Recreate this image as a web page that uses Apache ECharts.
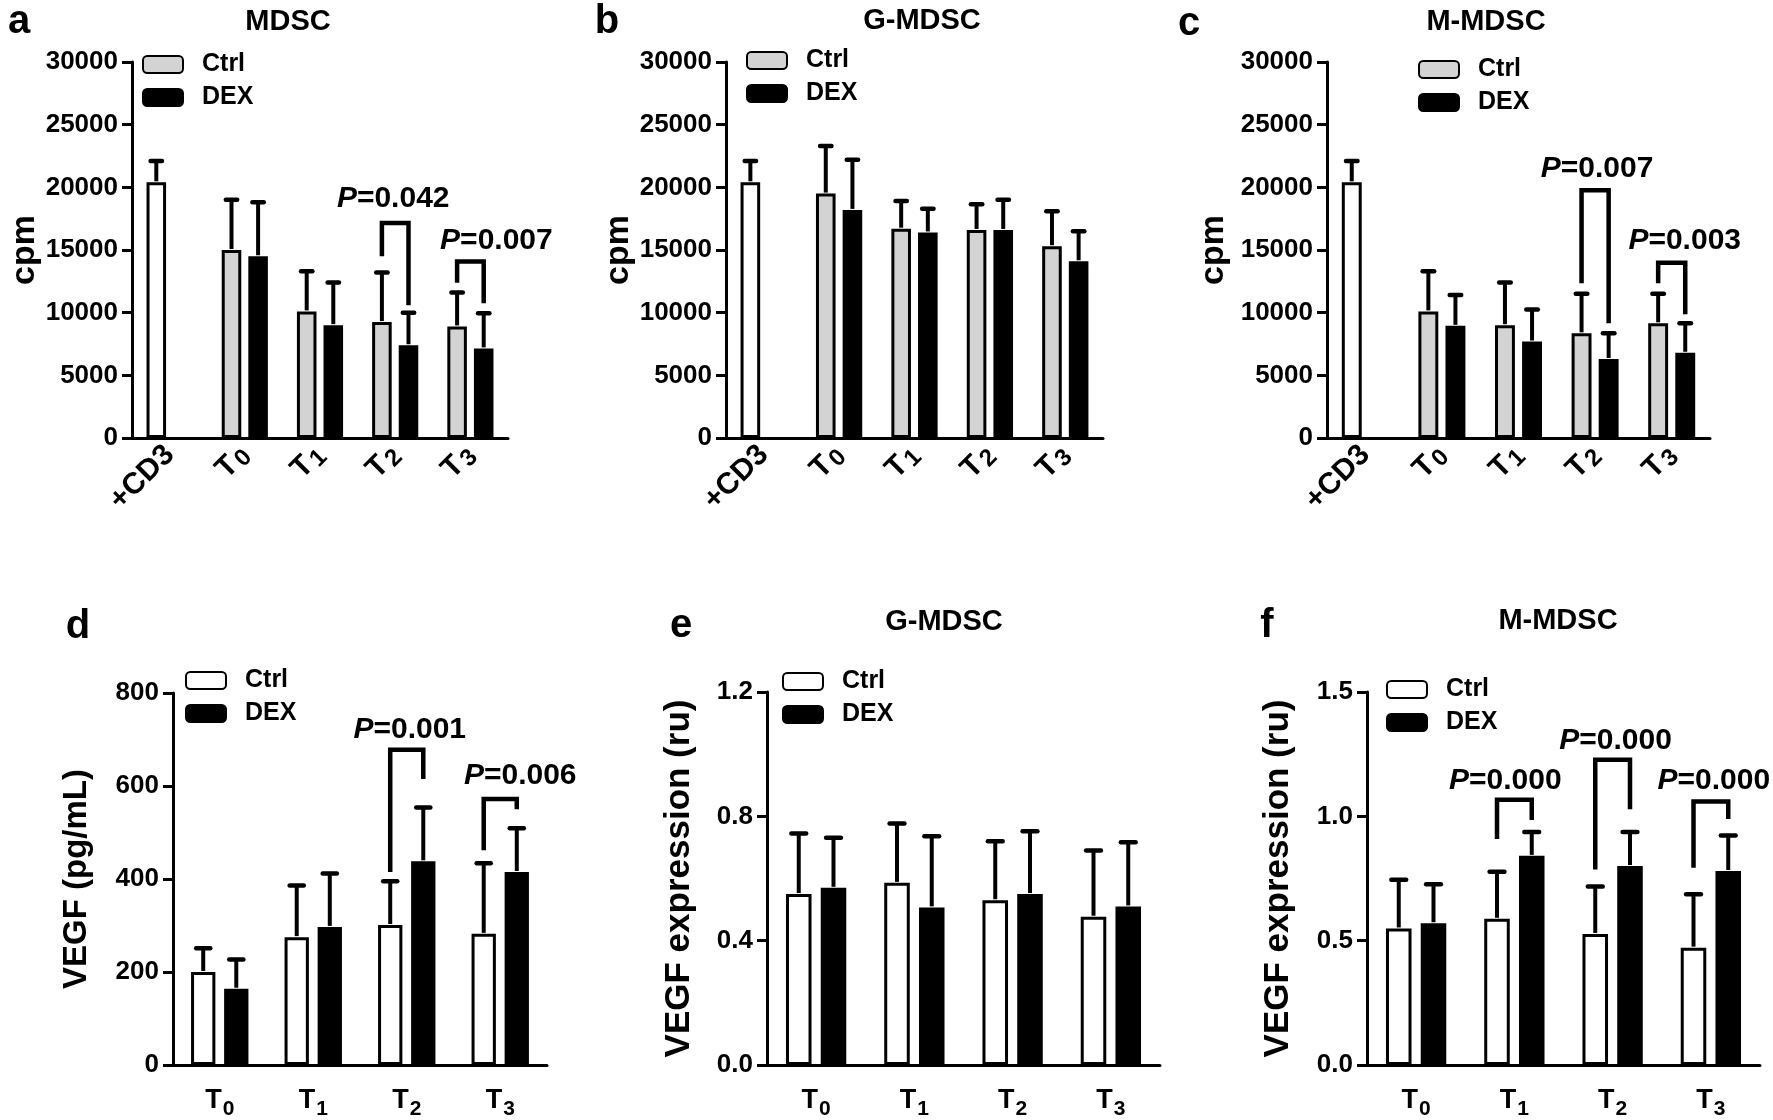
<!DOCTYPE html>
<html><head><meta charset="utf-8">
<script src="https://cdn.jsdelivr.net/npm/echarts@6/dist/echarts.min.js"></script>
<style>html,body{margin:0;padding:0;background:#fff}#c{width:1773px;height:1120px}</style>
</head><body><div id="c"></div>
<script>
// ---------- DATA ----------
const catsTop = ['+CD3', 'T0', 'T1', 'T2', 'T3'];
const catsBottom = ['T0', 'T1', 'T2', 'T3'];

// panel a: MDSC (cpm)
const aCtrl    = [20400, 15000, 10100, 9250, 8900];
const aCtrlErr = [22100, 19000, 13300, 13200, 11600];
const aDex     = [null, 14500, 9000, 7400, 7150];
const aDexErr  = [null, 18800, 12400, 10000, 9950];
// panel b: G-MDSC (cpm)
const bCtrl    = [20400, 19500, 16700, 16600, 15300];
const bCtrlErr = [22100, 23300, 18900, 18650, 18100];
const bDex     = [null, 18200, 16400, 16600, 14100];
const bDexErr  = [null, 22200, 18300, 19000, 16500];
// panel c: M-MDSC (cpm)
const cCtrl    = [20400, 10100, 9000, 8350, 9150];
const cCtrlErr = [22100, 13300, 12400, 11500, 11500];
const cDex     = [null, 8950, 7700, 6300, 6800];
const cDexErr  = [null, 11400, 10250, 8350, 9150];
// panel d: VEGF (pg/mL)
const dCtrl    = [200, 275, 301, 282];
const dCtrlErr = [251, 386, 395, 434];
const dDex     = [164, 297, 438, 415];
const dDexErr  = [227, 412, 554, 509];
// panel e: G-MDSC VEGF expression (ru)
const eCtrl    = [0.550, 0.586, 0.530, 0.477];
const eCtrlErr = [0.745, 0.777, 0.720, 0.690];
const eDex     = [0.570, 0.507, 0.550, 0.510];
const eDexErr  = [0.731, 0.736, 0.752, 0.717];
// panel f: M-MDSC VEGF expression (ru)
const fCtrl    = [0.549, 0.588, 0.527, 0.472];
const fCtrlErr = [0.745, 0.777, 0.718, 0.687];
const fDex     = [0.570, 0.841, 0.800, 0.780];
const fDexErr  = [0.727, 0.937, 0.937, 0.923];

// significance brackets: [category index, left foot, top, right foot, label level]
const aBrackets = [[3, 14500, 17150, 10600, 19100], [4, 12390, 14080, 10750, 15700]];
const aPvals = ['0.042', '0.007'];
const cBrackets = [[3, 12340, 19770, 9150, 21500], [4, 12340, 13980, 9880, 15750]];
const cPvals = ['0.007', '0.003'];
const dBrackets = [[2, 415, 678, 615, 722], [3, 462, 572, 550, 622]];
const dPvals = ['0.001', '0.006'];
const fBrackets = [[1, 0.909, 1.067, 0.985, 1.142], [2, 0.786, 1.228, 1.028, 1.306], [3, 0.793, 1.060, 0.989, 1.142]];
const fPvals = ['0.000', '0.000', '0.000'];

// ---------- STYLE / LAYOUT ----------
const FONT = "'Liberation Sans', Arial, Helvetica, sans-serif";
const BAR_FRAC = 0.26, GAP_FRAC = 0.36;
const GRAY = '#d3d3d3';

const panels = [
  {key:'a', cats:catsTop, ctrl:aCtrl, ctrlErr:aCtrlErr, dex:aDex, dexErr:aDexErr, ctrlColor:GRAY, cd3:true,
   grid:{left:132, top:62, width:376, height:376}, y:{max:30000, interval:5000, dec:0}, name:'cpm', nameGap:86, nameSize:34,
   legend:{left:142, top:52}, br:aBrackets, pv:aPvals, dx:[-2, 26]},
  {key:'b', cats:catsTop, ctrl:bCtrl, ctrlErr:bCtrlErr, dex:bDex, dexErr:bDexErr, ctrlColor:GRAY, cd3:true,
   grid:{left:726, top:62, width:377, height:376}, y:{max:30000, interval:5000, dec:0}, name:'cpm', nameGap:86, nameSize:34,
   legend:{left:746, top:48}, br:null},
  {key:'c', cats:catsTop, ctrl:cCtrl, ctrlErr:cCtrlErr, dex:cDex, dexErr:cDexErr, ctrlColor:GRAY, cd3:true,
   grid:{left:1327, top:62, width:383, height:376}, y:{max:30000, interval:5000, dec:0}, name:'cpm', nameGap:96, nameSize:34,
   legend:{left:1418, top:57}, br:cBrackets, pv:cPvals, dx:[2, 13]},
  {key:'d', cats:catsBottom, ctrl:dCtrl, ctrlErr:dCtrlErr, dex:dDex, dexErr:dDexErr, ctrlColor:'#fff', cd3:false,
   grid:{left:173, top:693, width:374, height:378}, y:{max:800, interval:200, dec:0}, name:'VEGF (pg/mL)', nameGap:80, nameSize:33,
   legend:{left:185, top:668}, br:dBrackets, pv:dPvals, dx:[3, 20]},
  {key:'e', cats:catsBottom, ctrl:eCtrl, ctrlErr:eCtrlErr, dex:eDex, dexErr:eDexErr, ctrlColor:'#fff', cd3:false,
   grid:{left:767, top:692, width:393, height:378}, y:{max:1.2, interval:0.4, dec:1}, name:'VEGF expression (ru)', nameGap:70, nameSize:35,
   legend:{left:782, top:669}, br:null},
  {key:'f', cats:catsBottom, ctrl:fCtrl, ctrlErr:fCtrlErr, dex:fDex, dexErr:fDexErr, ctrlColor:'#fff', cd3:false,
   grid:{left:1367, top:692, width:393, height:378}, y:{max:1.5, interval:0.5, dec:1}, name:'VEGF expression (ru)', nameGap:71, nameSize:35,
   legend:{left:1386, top:677}, br:fBrackets, pv:fPvals, dx:[-9, 3, 3]}
];

const titles = [
  {text:'MDSC', x:288, y:22}, {text:'G-MDSC', x:922, y:21}, {text:'M-MDSC', x:1486, y:22},
  {text:'G-MDSC', x:944, y:622}, {text:'M-MDSC', x:1558, y:621}
];
const letters = [
  {text:'a', x:19, y:22}, {text:'b', x:607, y:22}, {text:'c', x:1189, y:24},
  {text:'d', x:78, y:627}, {text:'e', x:681, y:626}, {text:'f', x:1267, y:626}
];

// ---------- BUILD ----------
function barOffset(api, which) {
  const band = api.size([1, 0])[0];
  const w = band * BAR_FRAC;
  const sep = w * (1 + GAP_FRAC);
  return {w: w, off: which === 0 ? -sep / 2 : sep / 2, sep: sep};
}

function errRender(params, api) {
  const cat = api.value(0), which = api.value(1);
  const base = api.coord([cat, api.value(2)]);
  const top = api.coord([cat, api.value(3)]);
  const o = barOffset(api, which);
  const x = base[0] + o.off;
  const cap = o.w * 0.58;
  return {type:'group', children:[
    {type:'line', shape:{x1:x, y1:base[1] - 1, x2:x, y2:top[1]}, style:{stroke:'#000', lineWidth:4}},
    {type:'line', shape:{x1:x - cap / 2, y1:top[1], x2:x + cap / 2, y2:top[1]}, style:{stroke:'#000', lineWidth:4.5, lineCap:'round'}}
  ]};
}

function makeBracketRender(p) {
  return function (params, api) {
    const cat = api.value(0);
    const o = barOffset(api, 0);
    const cx = api.coord([cat, 0])[0];
    const xl = cx - o.sep / 2, xr = cx + o.sep / 2;
    const yl = api.coord([cat, api.value(1)])[1];
    const yt = api.coord([cat, api.value(2)])[1];
    const yr = api.coord([cat, api.value(3)])[1];
    const yLab = api.coord([cat, api.value(4)])[1];
    return {type:'group', children:[
      {type:'polyline', shape:{points:[[xl, yl], [xl, yt], [xr, yt], [xr, yr]]},
       style:{stroke:'#000', lineWidth:4.5, fill:null, lineJoin:'miter'}},
      {type:'text', x: cx + p.dx[params.dataIndex], y: yLab,
       style:{text:'{i|P}{n|=' + p.pv[params.dataIndex] + '}', align:'center', verticalAlign:'middle',
              rich:{i:{fontStyle:'italic', fontWeight:'bold', fontSize:30, fontFamily:FONT, fill:'#000'},
                    n:{fontWeight:'bold', fontSize:30, fontFamily:FONT, fill:'#000'}}}}
    ]};
  };
}

const option = {
  backgroundColor:'#fff', animation:false,
  grid:[], xAxis:[], yAxis:[], legend:[], series:[],
  graphic:[]
};

panels.forEach(function (p, i) {
  option.grid.push(Object.assign({containLabel:false}, p.grid));
  const top = p.cd3;
  option.xAxis.push({
    type:'category', gridIndex:i, data:p.cats,
    axisLine:{lineStyle:{color:'#000', width:3}},
    axisTick:{alignWithLabel:true, length:11, lineStyle:{color:'#000', width:3}},
    axisLabel: top ? {
      interval:0, rotate:45, margin:12, color:'#000', fontFamily:FONT, fontWeight:'bold', fontSize:30,
      formatter:function (v) { return v.charAt(0) === 'T' ? 'T{s|' + v.slice(1) + '}' : v; },
      rich:{s:{fontSize:24, fontWeight:'bold', fontFamily:FONT, color:'#000', padding:[10, 0, 0, 2]}}
    } : {
      interval:0, margin:16, color:'#000', fontFamily:FONT, fontWeight:'bold', fontSize:27,
      formatter:function (v) { return 'T{s|' + v.slice(1) + '}'; },
      rich:{s:{fontSize:21, fontWeight:'bold', fontFamily:FONT, color:'#000', padding:[18, 0, 0, 1]}}
    }
  });
  option.yAxis.push({
    type:'value', gridIndex:i, min:0, max:p.y.max, interval:p.y.interval,
    splitLine:{show:false},
    axisLine:{show:true, lineStyle:{color:'#000', width:3}},
    axisTick:{show:true, length:10, lineStyle:{color:'#000', width:3}},
    axisLabel:{margin:14, color:'#000', fontFamily:FONT, fontWeight:'bold', fontSize:26,
      formatter:function (v) { return Number(v).toFixed(p.y.dec); }},
    name:p.name, nameLocation:'middle', nameGap:p.nameGap,
    nameTextStyle:{color:'#000', fontFamily:FONT, fontWeight:'bold', fontSize:p.nameSize}
  });
  const nC = 'Ctrl#' + p.key, nD = 'DEX#' + p.key;
  option.legend.push({
    left:p.legend.left, top:p.legend.top, orient:'vertical', data:[nC, nD],
    icon:'roundRect', itemWidth:40, itemHeight:17, itemGap:8, padding:0,
    selectedMode:false,
    formatter:function (n) { return n.split('#')[0]; },
    textStyle:{color:'#000', fontFamily:FONT, fontWeight:'bold', fontSize:25, padding:[0, 0, 0, 14]}
  });
  option.series.push({
    type:'bar', name:nC, xAxisIndex:i, yAxisIndex:i, barWidth:(BAR_FRAC * 100) + '%', barGap:(GAP_FRAC * 100) + '%',
    itemStyle:{color:p.ctrlColor, borderColor:'#000', borderWidth:3},
    data:p.ctrl.map(function (v, k) { return (top && k === 0) ? {value:v, itemStyle:{color:'#fff'}} : v; })
  });
  option.series.push({
    type:'bar', name:nD, xAxisIndex:i, yAxisIndex:i, barWidth:(BAR_FRAC * 100) + '%', barGap:(GAP_FRAC * 100) + '%',
    itemStyle:{color:'#000', borderColor:'#000', borderWidth:3},
    data:p.dex
  });
  const errData = [];
  p.ctrl.forEach(function (v, k) { if (v != null) errData.push([k, 0, v, p.ctrlErr[k]]); });
  p.dex.forEach(function (v, k) { if (v != null) errData.push([k, 1, v, p.dexErr[k]]); });
  option.series.push({type:'custom', xAxisIndex:i, yAxisIndex:i, z:5, renderItem:errRender, data:errData, silent:true});
  if (p.br) {
    option.series.push({type:'custom', xAxisIndex:i, yAxisIndex:i, z:6, renderItem:makeBracketRender(p), data:p.br, silent:true});
  }
});

titles.forEach(function (t) {
  option.graphic.push({type:'text', x:t.x, y:t.y, style:{text:t.text, align:'center', verticalAlign:'middle',
    fill:'#000', font:'bold 29px ' + FONT}});
});
letters.forEach(function (t) {
  option.graphic.push({type:'text', x:t.x, y:t.y, style:{text:t.text, align:'center', verticalAlign:'middle',
    fill:'#000', font:'bold 40px ' + FONT}});
});

const chart = echarts.init(document.getElementById('c'), null, {renderer:'canvas'});
chart.setOption(option);
</script>
</body></html>
